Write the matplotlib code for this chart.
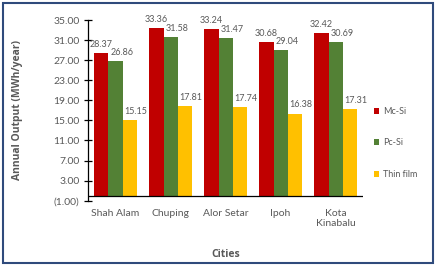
import numpy as np
import matplotlib.pyplot as plt
from matplotlib.patches import Rectangle
from matplotlib.ticker import FuncFormatter

cities = ["Shah Alam", "Chuping", "Alor Setar", "Ipoh", "Kota\nKinabalu"]
mc_si = [28.37, 33.36, 33.24, 30.68, 32.42]
pc_si = [26.86, 31.58, 31.47, 29.04, 30.69]
thin_film = [15.15, 17.81, 17.74, 16.38, 17.31]

series = [("Mc-Si", mc_si, "#C00000"),
          ("Pc-Si", pc_si, "#538135"),
          ("Thin film", thin_film, "#FFC000")]
label_shift = [0, 4.5, 4.5]  # data labels nudged right like the original

plt.rcParams["font.family"] = ["Lato", "DejaVu Sans"]
txt = "#595959"
fig = plt.figure(figsize=(4.37, 2.66), dpi=100)
ax = fig.add_axes([0.2014, 0.2455, 0.6293, 0.679])

x = np.arange(len(cities))
w = 0.255
for i, (name, vals, col) in enumerate(series):
    pos = x + (i - 1) * w
    ax.bar(pos, vals, w, color=col, label=name, zorder=2)
    for p, v in zip(pos, vals):
        ax.annotate(f"{v:.2f}", (p, v), xytext=(label_shift[i], 3),
                    textcoords="offset points", ha="center", va="bottom",
                    fontsize=6.5, color=txt)

ax.set_xlim(-0.5, len(cities) - 0.5)
ax.set_ylim(-1, 35)
ax.set_yticks(np.arange(-1, 36, 4))
ax.yaxis.set_major_formatter(FuncFormatter(
    lambda v, _: f"({abs(v):.2f})" if v < 0 else f"{v:.2f}"))
ax.axhline(0, color="black", lw=0.9, zorder=3)
for s in ["top", "right", "bottom"]:
    ax.spines[s].set_visible(False)
ax.spines["left"].set_linewidth(0.9)
ax.tick_params(axis="y", direction="inout", length=6, width=0.9,
               labelsize=7.5, labelcolor=txt, pad=3)
ax.set_xticks(x)
ax.set_xticklabels(cities)
ax.tick_params(axis="x", length=0, labelsize=7.5, labelcolor=txt, pad=6)

bold = dict(fontsize=7.5, fontweight="bold", color=txt,
            family=["Open Sans", "DejaVu Sans"])
ax.set_ylabel("Annual Output (MWh/year)", labelpad=22, **bold)
ax.set_xlabel("Cities", labelpad=15, **bold)

ax.legend(loc="center left", bbox_to_anchor=(1.01, 0.32), frameon=False,
          fontsize=6.5, labelcolor=txt, handlelength=0.6, handleheight=0.6,
          labelspacing=2.5, handletextpad=0.4)

fig.patches.append(Rectangle((0.008, 0.012), 0.983, 0.975,
                             transform=fig.transFigure, fill=False,
                             edgecolor="#2F4B7C", lw=1.5))

fig.savefig("out.png", dpi=100)
